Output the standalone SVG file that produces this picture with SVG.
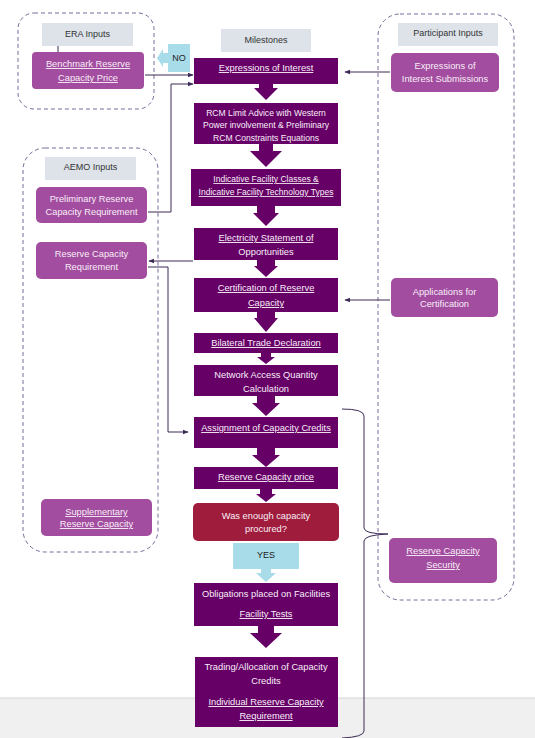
<svg xmlns="http://www.w3.org/2000/svg" width="535" height="738" viewBox="0 0 535 738">
<defs>
<marker id="ah" viewBox="0 0 10 10" refX="9" refY="5" markerWidth="6" markerHeight="6" markerUnits="userSpaceOnUse" orient="auto"><path d="M0,1 L10,5 L0,9 Z" fill="#3d2b56"/></marker>
</defs>
<style>
text{font-family:"Liberation Sans",Arial,sans-serif;font-size:9.3px;text-anchor:middle}
.cont{fill:none;stroke:#7a6a9a;stroke-width:1;stroke-dasharray:4 3}
.lab{fill:#dee3ea}
.lab-t{fill:#333333;font-size:9px}
.ms{fill:#660066}
.ms-t{fill:#f8eef8}
.in{fill:#a24d9f}
.in-t{fill:#f8eef8}
.u{text-decoration:underline}
.dec{fill:#a01c3c}
.call{fill:#a7dce8}
.call-t{fill:#222222;font-size:9px}
.arr{fill:#660066}
.con{fill:none;stroke:#3d2b56;stroke-width:1}
</style>
<rect x="0" y="0" width="535" height="738" fill="#ffffff"/>
<rect x="0" y="698" width="535" height="40" fill="#f0f0f0"/>
<line x1="0" y1="698" x2="535" y2="698" stroke="#d4d4d4" stroke-width="1"/>

<g id="containers">
<rect class="cont" x="18" y="13" width="136" height="96" rx="16"/>
<rect class="cont" x="23" y="148" width="135" height="404" rx="22"/>
<rect class="cont" x="378" y="14" width="136" height="586" rx="22"/>
</g>

<g id="connectors">
<line class="con" x1="58" y1="46" x2="58" y2="52"/>
<line class="con" x1="145" y1="75" x2="193" y2="75" marker-end="url(#ah)"/>
<polyline class="con" points="148,212 171,212 171,84 193,84" marker-end="url(#ah)"/>
<line class="con" x1="390" y1="72" x2="345" y2="72" marker-end="url(#ah)"/>
<line class="con" x1="193" y1="261" x2="149" y2="261" marker-end="url(#ah)"/>
<polyline class="con" points="148,267 168,267 168,432 188,432" marker-end="url(#ah)"/>
<line class="con" x1="390" y1="300" x2="345" y2="300" marker-end="url(#ah)"/>
<path class="con" d="M342,409 Q364,409 364,416 L364,528 Q364,534 388,534 Q364,535 364,541 L364,731 Q364,737 342,738"/>
</g>

<g id="arrows">
<path class="arr" d="M259,84 H273 V88 H278 L266,100 L254,88 H259 Z"/>
<path class="arr" d="M259,144 H273 V151 H282 L266,167 L250,151 H259 Z"/>
<path class="arr" d="M257,206 H275 V213 H279 L266,226 L253,213 H257 Z"/>
<path class="arr" d="M257,260 H275 V266 H278 L266,277 L254,266 H257 Z"/>
<path class="arr" d="M257,312 H275 V318 H278 L266,332 L254,318 H257 Z"/>
<path class="arr" d="M261,353 H271 V357 H275 L266,364 L257,357 H261 Z"/>
<path class="arr" d="M257,396 H275 V403 H280 L266,416 L252,403 H257 Z"/>
<path class="arr" d="M257,448 H275 V455 H280 L266,467 L252,455 H257 Z"/>
<path class="arr" d="M260,489 H272 V494 H276 L266,502 L256,494 H260 Z"/>
<path class="arr" d="M258,626 H274 V633 H282 L266,648 L250,633 H258 Z"/>
</g>

<g id="era-label"><rect class="lab" x="42" y="23" width="91" height="23"/><text class="lab-t" x="87.5" y="37">ERA Inputs</text></g>
<g id="benchmark"><rect class="in" x="32" y="52" width="112" height="37" rx="4"/><text class="in-t u" x="88" y="67">Benchmark Reserve</text><text class="in-t u" x="88" y="81">Capacity Price</text></g>
<g id="no-callout"><path class="call" d="M168,44 H190 V72 H168 V63 H163 V67 L157,58 L163,49 V53 H168 Z"/><text class="call-t" x="179" y="61">NO</text></g>

<g id="milestones-label"><rect class="lab" x="221" y="29" width="90" height="23"/><text class="lab-t" x="266" y="43">Milestones</text></g>
<g id="eoi"><rect class="ms" x="194" y="58" width="144" height="26"/><text class="ms-t u" x="266" y="71">Expressions of Interest</text></g>
<g id="rcm"><rect class="ms" x="194" y="103" width="144" height="41"/><text class="ms-t" x="266" y="116" style="font-size:8.6px">RCM Limit Advice with Western</text><text class="ms-t" x="266" y="128" style="font-size:8.6px">Power involvement &amp; Preliminary</text><text class="ms-t" x="266" y="141" style="font-size:8.6px">RCM Constraints Equations</text></g>
<g id="indicative"><rect class="ms" x="191" y="169" width="150" height="37"/><text class="ms-t u" x="266" y="182" style="font-size:8.5px">Indicative  Facility Classes &amp;</text><text class="ms-t u" x="266" y="195" style="font-size:8.5px">Indicative  Facility Technology Types</text></g>
<g id="esoo"><rect class="ms" x="194" y="228" width="144" height="32"/><text class="ms-t u" x="266" y="241">Electricity Statement of</text><text class="ms-t" x="266" y="255">Opportunities</text></g>
<g id="certification"><rect class="ms" x="194" y="278" width="144" height="34"/><text class="ms-t u" x="266" y="291">Certification of Reserve</text><text class="ms-t u" x="266" y="306">Capacity</text></g>
<g id="bilateral"><rect class="ms" x="194" y="333" width="144" height="20"/><text class="ms-t u" x="266" y="346">Bilateral Trade Declaration</text></g>
<g id="naq"><rect class="ms" x="194" y="365" width="144" height="31"/><text class="ms-t" x="266" y="378">Network Access Quantity</text><text class="ms-t" x="266" y="392">Calculation</text></g>
<g id="assignment"><rect class="ms" x="194" y="417" width="144" height="31"/><text class="ms-t u" x="266" y="431">Assignment of Capacity Credits</text></g>
<g id="rc-price"><rect class="ms" x="194" y="467" width="144" height="22"/><text class="ms-t u" x="266" y="480">Reserve Capacity price</text></g>
<g id="decision"><rect class="dec" x="193" y="503" width="146" height="38" rx="5"/><text class="ms-t" x="266" y="519">Was enough capacity</text><text class="ms-t" x="266" y="532">procured?</text></g>
<g id="yes-callout"><path class="call" d="M233,543 H299 V569 H271 V573 H276 L266,582 L256,573 H261 V569 H233 Z"/><text class="call-t" x="266" y="558">YES</text></g>
<g id="obligations"><rect class="ms" x="194" y="583" width="144" height="43"/><text class="ms-t" x="266" y="597">Obligations placed on Facilities</text><text class="ms-t u" x="266" y="617">Facility Tests</text></g>
<g id="trading"><rect class="ms" x="195" y="657" width="143" height="70"/><text class="ms-t" x="266" y="670">Trading/Allocation of Capacity</text><text class="ms-t" x="266" y="684">Credits</text><text class="ms-t u" x="266" y="705">Individual Reserve Capacity</text><text class="ms-t u" x="266" y="719">Requirement</text></g>

<g id="participant-label"><rect class="lab" x="398" y="23" width="100" height="23"/><text class="lab-t" x="448" y="36">Participant Inputs</text></g>
<g id="eoi-submissions"><rect class="in" x="391" y="53" width="108" height="39" rx="5"/><text class="in-t" x="445" y="69">Expressions of</text><text class="in-t" x="445" y="82">Interest Submissions</text></g>
<g id="applications"><rect class="in" x="391" y="278" width="107" height="39" rx="5"/><text class="in-t" x="444.5" y="295">Applications for</text><text class="in-t" x="444.5" y="307">Certification</text></g>
<g id="rc-security"><rect class="in" x="389" y="538" width="108" height="45" rx="5"/><text class="in-t u" x="443" y="554">Reserve Capacity</text><text class="in-t u" x="443" y="568">Security</text></g>

<g id="aemo-label"><rect class="lab" x="45" y="157" width="91" height="23"/><text class="lab-t" x="90.5" y="170">AEMO Inputs</text></g>
<g id="prelim-rcr"><rect class="in" x="36" y="187" width="111" height="36" rx="5"/><text class="in-t" x="91.5" y="202">Preliminary Reserve</text><text class="in-t" x="91.5" y="215">Capacity Requirement</text></g>
<g id="rcr"><rect class="in" x="36" y="242" width="111" height="37" rx="5"/><text class="in-t" x="91.5" y="257">Reserve Capacity</text><text class="in-t" x="91.5" y="270">Requirement</text></g>
<g id="supplementary"><rect class="in" x="41" y="499" width="111" height="37" rx="5"/><text class="in-t u" x="96.5" y="515">Supplementary</text><text class="in-t u" x="96.5" y="527">Reserve Capacity</text></g>
</svg>
